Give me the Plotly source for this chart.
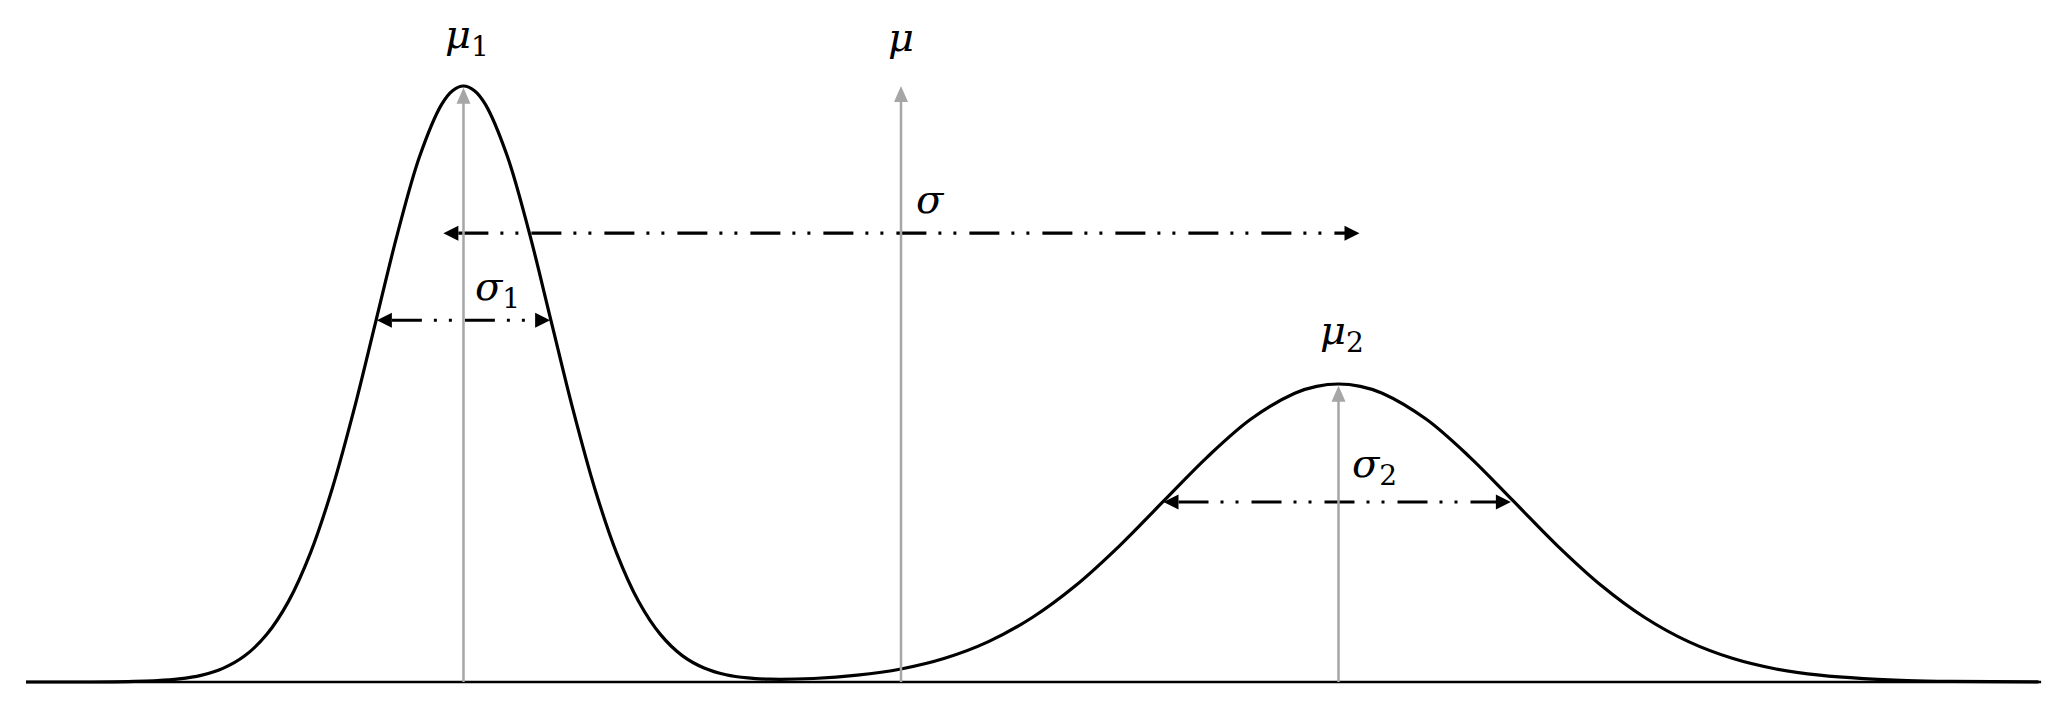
import plotly.graph_objects as go

# ---- data -----------------------------------------------------------------
# x in units of sigma_1 (mu_1 = 0), y = curve height relative to the first peak
curve_x = [-5.0, -4.5, -4.0, -3.5, -3.25, -3.0, -2.75, -2.5, -2.25, -2.0, -1.75,
           -1.5, -1.25, -1.0, -0.75, -0.5, -0.25, -0.125, 0.0, 0.125, 0.25, 0.5, 0.75,
           1.0, 1.25, 1.5, 1.75, 2.0, 2.25, 2.5, 2.75, 3.0, 3.25, 3.5, 4.0, 4.5, 5.0,
           5.5, 6.0, 6.5, 7.0, 7.5, 8.0, 8.5, 9.0, 9.5, 9.75, 10.0, 10.25, 10.5, 11.0,
           11.5, 12.0, 12.5, 13.0, 13.5, 14.0, 14.5, 15.0, 15.5, 16.0, 16.5, 17.0, 18.0]
curve_y = [0.0, 0.0, 0.0003, 0.0022, 0.0051, 0.0111, 0.0228, 0.0439, 0.0796, 0.1353,
           0.2163, 0.3247, 0.4578, 0.6065, 0.7548, 0.8825, 0.9692, 0.9922, 1.0, 0.9922,
           0.9692, 0.8825, 0.7548, 0.6065, 0.4578, 0.3247, 0.2163, 0.1355, 0.0799,
           0.0443, 0.0235, 0.0122, 0.0068, 0.0047, 0.0059, 0.0114, 0.0219, 0.0398,
           0.0677, 0.1082, 0.1623, 0.2289, 0.3033, 0.3774, 0.4412, 0.4846, 0.4961, 0.5,
           0.4961, 0.4846, 0.4412, 0.3774, 0.3033, 0.2289, 0.1623, 0.1082, 0.0677,
           0.0398, 0.0219, 0.0114, 0.0056, 0.0025, 0.0011, 0.0002]

baseline_x = [-5.0, 18.03]

mean_x = [0.0, 5.0, 10.0]          # mu_1, mu, mu_2
mean_tip = [0.997, 1.0, 0.497]     # arrow tip heights

spread_left = [-0.23, -0.99, 8.0]  # sigma, sigma_1, sigma_2 arrows
spread_right = [10.24, 0.99, 11.97]
spread_y = [0.753, 0.607, 0.302]

label_text = ["<i>μ</i><sub>1</sub>", "<i>μ</i>", "<i>σ</i>",
              "<i>σ</i><sub>1</sub>", "<i>μ</i><sub>2</sub>", "<i>σ</i><sub>2</sub>"]
label_x = [0.04, 5.0, 5.34, 0.39, 10.04, 10.41]
label_y = [1.083, 1.082, 0.810, 0.659, 0.585, 0.362]

# ---- geometry --------------------------------------------------------------
PAGE_OFF = 8                       # default body margin of the html page
W, H = 2068 - 2 * PAGE_OFF, 709 - 2 * PAGE_OFF
X_UNIT, Y_UNIT = 87.5, 596.0       # pixels per data unit
MU1_PX, BASE_PX = 463.5, 682.0     # page position of x=0 and y=0
x_lo = (PAGE_OFF - MU1_PX) / X_UNIT
y_hi = (BASE_PX - PAGE_OFF) / Y_UNIT
xr = [x_lo, x_lo + W / X_UNIT]
yr = [y_hi - H / Y_UNIT, y_hi]

GRAY = "#A6A6A6"
DASH = "30px,12px,3px,12px,3px,13px"
HEAD_L, HEAD_H = 15.0, 7.5         # black arrow head (px)
GHEAD_L, GHEAD_H = 16.0, 7.0       # gray arrow head (px)
dx = 1.0 / X_UNIT
dy = 1.0 / Y_UNIT

fig = go.Figure()

# baseline
fig.add_trace(go.Scatter(x=baseline_x, y=[0, 0], mode="lines",
                         line=dict(color="black", width=2.6), hoverinfo="skip"))
# mixture curve
fig.add_trace(go.Scatter(x=curve_x, y=curve_y, mode="lines",
                         line=dict(color="black", width=3.2, shape="spline", smoothing=1.0),
                         hoverinfo="skip"))

shapes = []
# dashed double arrows
for xl, xrt, yy in zip(spread_left, spread_right, spread_y):
    fig.add_trace(go.Scatter(x=[xl + HEAD_L * dx, xrt - HEAD_L * dx * 0.5], y=[yy, yy],
                             mode="lines",
                             line=dict(color="black", width=3.2, dash=DASH),
                             hoverinfo="skip"))
    for tip, sgn in ((xl, 1), (xrt, -1)):
        bx = tip + sgn * HEAD_L * dx
        path = (f"M {tip},{yy} L {bx},{yy + HEAD_H * dy} "
                f"L {bx},{yy - HEAD_H * dy} Z")
        shapes.append(dict(type="path", path=path, xref="x", yref="y",
                           fillcolor="black", line=dict(width=0), layer="above"))

# gray mean arrows
for mx, tip in zip(mean_x, mean_tip):
    shapes.append(dict(type="line", x0=mx, x1=mx, y0=0, y1=tip - 8 * dy,
                       xref="x", yref="y", line=dict(color=GRAY, width=2.5),
                       layer="above"))
    by = tip - GHEAD_L * dy
    path = (f"M {mx},{tip} L {mx - GHEAD_H * dx},{by} L {mx + GHEAD_H * dx},{by} Z")
    shapes.append(dict(type="path", path=path, xref="x", yref="y",
                       fillcolor=GRAY, line=dict(width=0), layer="above"))

annotations = []
for t, lx, ly in zip(label_text, label_x, label_y):
    annotations.append(dict(x=lx, y=ly, xref="x", yref="y", text=t, showarrow=False,
                            xanchor="center", yanchor="middle",
                            font=dict(family="DejaVu Serif", size=40, color="black")))

fig.update_layout(
    width=W, height=H,
    margin=dict(l=0, r=0, t=0, b=0, autoexpand=False),
    paper_bgcolor="white", plot_bgcolor="white",
    showlegend=False,
    xaxis=dict(range=xr, visible=False, fixedrange=True),
    yaxis=dict(range=yr, visible=False, fixedrange=True),
    shapes=shapes,
    annotations=annotations,
)

fig.write_html("out.html")
